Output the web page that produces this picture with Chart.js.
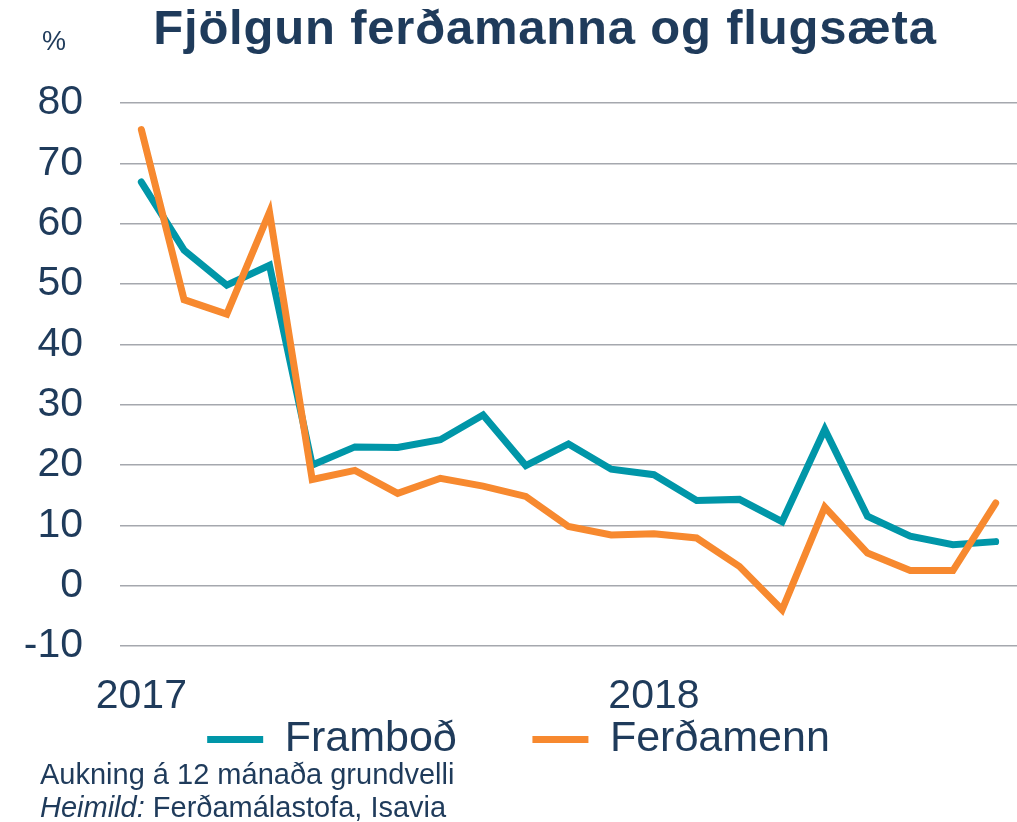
<!DOCTYPE html>
<html>
<head>
<meta charset="utf-8">
<script src="https://cdn.jsdelivr.net/npm/chart.js@4"></script>
<style>
  body { margin: 0; background: #fff; }
  #wrap { position: relative; width: 1017px; height: 822px; font-family: "Liberation Sans", Arial, sans-serif; color: #1F3B5B; }
  #title { position: absolute; left: 0; width: 1090px; top: -1px; text-align: center; font-weight: bold; font-size: 49px; letter-spacing: 0.8px; }
  #pct { position: absolute; left: 42px; top: 26px; font-size: 27px; }
  #note { position: absolute; left: 40px; top: 758px; font-size: 29px; line-height: 33px; }
  canvas { position: absolute; left: 0; top: 0; }
</style>
</head>
<body>
<div id="wrap">
  <canvas id="c" width="1017" height="822"></canvas>
  <div id="title">Fjölgun ferðamanna og flugsæta</div>
  <div id="pct">%</div>
  <div id="note">Aukning á 12 mánaða grundvelli<br><i>Heimild:</i> Ferðamálastofa, Isavia</div>
</div>
<script>
// ===============================
// Data
// ===============================
const months = ["2017","","","","","","","","","","","",
                "2018","","","","","","","",""];
const framboð = [66.9,55.6,49.8,53.1,20.0,23.0,22.9,24.2,28.3,19.9,23.5,19.3,
                 18.4,14.1,14.3,10.6,25.9,11.5,8.2,6.8,7.3];
const ferðamenn = [75.6,47.4,45.0,61.9,17.6,19.1,15.3,17.8,16.5,14.8,9.8,8.4,
                   8.6,7.9,3.2,-4.0,13.0,5.4,2.5,2.5,13.7];
const yMin = -10, yMax = 80, yStep = 10;

const navy = "#1F3B5B";

// ===============================
// Line Chart
// ===============================
const ctx = document.getElementById("c").getContext("2d");
const chart = new Chart(ctx, {
    type: "line",
    data: {
        labels: months,
        datasets: [{
            label: "Framboð",
            data: framboð,
            borderColor: "#0096A8",
            backgroundColor: "#0096A8",
            borderWidth: 7,
            borderCapStyle: "round",
            pointRadius: 0,
            tension: 0,
            order: 1
        },{
            label: "Ferðamenn",
            data: ferðamenn,
            borderColor: "#F7892F",
            backgroundColor: "#F7892F",
            borderWidth: 7,
            borderCapStyle: "round",
            pointRadius: 0,
            tension: 0,
            order: 0
        }]
    },
    options: {
        responsive: false,
        animation: false,
        layout: { padding: { top: 103, left: 20, right: 0, bottom: 51 } },
        plugins: {
            legend: {
                position: "bottom",
                labels: {
                    usePointStyle: true,
                    pointStyle: "line",
                    pointStyleWidth: 56,
                    padding: 4,
                    color: navy,
                    font: { family: "Liberation Sans", size: 43, lineHeight: 1 },
                    sort: (a, b) => a.datasetIndex - b.datasetIndex,
                    // extra gap after the first item
                    generateLabels: (ch) => {
                        const items = Chart.defaults.plugins.legend.labels.generateLabels(ch);
                        items.forEach(it => { if (it.datasetIndex === 0) it.text += "      "; });
                        return items;
                    }
                }
            },
            tooltip: { enabled: false }
        },
        scales: {
            x: {
                offset: true,
                // keep the axis box short so the legend sits close under the years
                afterFit: (s) => { s.height = 68; },
                grid: { display: false, drawTicks: false },
                border: { display: false },
                ticks: {
                    autoSkip: false, maxRotation: 0, padding: 0,
                    color: navy,
                    font: { family: "Liberation Sans", size: 41, lineHeight: 2.49 }
                }
            },
            y: {
                min: yMin, max: yMax,
                afterFit: (s) => { s.width = 100; },
                grid: { color: "#A5A8AE", lineWidth: 1.5, drawTicks: false },
                border: { display: false },
                ticks: {
                    autoSkip: false,
                    stepSize: yStep, padding: 37,
                    color: navy,
                    font: { family: "Liberation Sans", size: 41 }
                }
            }
        }
    }
});
</script>
</body>
</html>
